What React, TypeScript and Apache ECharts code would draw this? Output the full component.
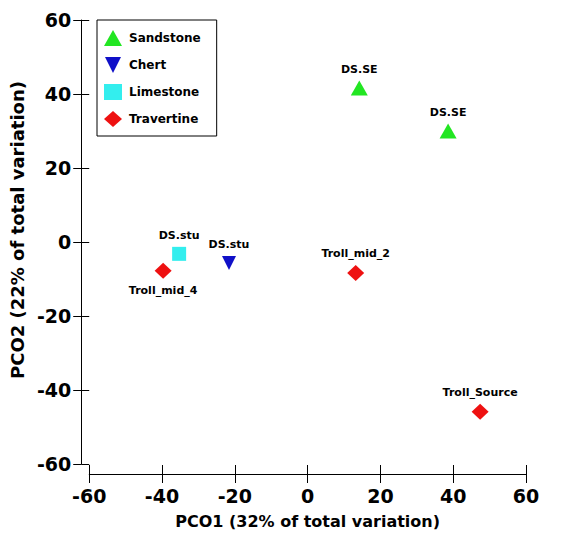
import React, { useEffect, useRef } from "react";
import * as echarts from "echarts";

const xTicks = { min: -60, max: 60, interval: 20 };
const yTicks = { min: -60, max: 60, interval: 20 };

const sandstoneX = [14.2, 38.6];
const sandstoneY = [41.6, 30.0];
const sandstoneLabels = ["DS.SE", "DS.SE"];

const chertX = [-21.6];
const chertY = [-5.7];
const chertLabels = ["DS.stu"];

const limestoneX = [-35.3];
const limestoneY = [-3.2];
const limestoneLabels = ["DS.stu"];

const travertineX = [-39.7, 13.2, 47.4];
const travertineY = [-7.8, -8.4, -45.9];
const travertineLabels = ["Troll_mid_4", "Troll_mid_2", "Troll_Source"];
const travertineLabelPos = ["bottom", "top", "top"];

const FONT = "DejaVu Sans";
const DOWN_TRI = "path://M0,0 L10,0 L5,10 Z";

function pts(xs: number[], ys: number[], labels: string[], pos?: string[]) {
  return xs.map((x, i) => ({
    value: [x, ys[i]],
    name: labels[i],
    label: { position: pos ? pos[i] : "top" },
  }));
}

export default function App() {
  const ref = useRef<HTMLDivElement>(null);
  useEffect(() => {
    if (!ref.current) return;
    const chart = echarts.init(ref.current, null, { renderer: "svg" });
    const axisCommon = {
      type: "value",
      min: xTicks.min,
      max: xTicks.max,
      interval: xTicks.interval,
      splitLine: { show: false },
    };
    const labelStyle = {
      show: true,
      formatter: "{b}",
      fontFamily: FONT,
      fontWeight: "bold",
      fontSize: 11,
      color: "#000",
      distance: 6,
    };
    chart.setOption({
      animation: false,
      backgroundColor: "#fff",
      textStyle: { fontFamily: FONT },
      grid: { left: 88, right: 43, top: 20, bottom: 82 },
      legend: {
        orient: "vertical",
        left: 97,
        top: 20,
        borderColor: "#000",
        borderWidth: 1,
        padding: [10, 16, 9, 7],
        itemGap: 11,
        itemWidth: 18,
        itemHeight: 16,
        textStyle: { fontFamily: FONT, fontWeight: "bold", fontSize: 12, color: "#000", padding: [0, 0, 0, 2] },
        data: ["Sandstone", "Chert", "Limestone", "Travertine"],
      },
      xAxis: [
        {
          ...axisCommon,
          position: "bottom",
          offset: 10,
          name: "PCO1 (32% of total variation)",
          nameLocation: "middle",
          nameGap: 39,
          nameTextStyle: { fontFamily: FONT, fontWeight: "bold", fontSize: 16, color: "#000" },
          axisLine: { show: true, onZero: false, lineStyle: { color: "#000", width: 1 } },
          axisTick: { show: true, length: 9, lineStyle: { color: "#000" } },
          axisLabel: { margin: 12, fontFamily: FONT, fontWeight: "bold", fontSize: 19, color: "#000" },
        },
        {
          ...axisCommon,
          position: "bottom",
          offset: 10,
          axisLine: { show: false, onZero: false },
          axisTick: { show: true, inside: true, length: 9, lineStyle: { color: "#000" } },
          axisLabel: { show: false },
        },
      ],
      yAxis: [
        {
          ...axisCommon,
          min: yTicks.min,
          max: yTicks.max,
          interval: yTicks.interval,
          position: "left",
          offset: 8,
          name: "PCO2 (22% of total variation)",
          nameLocation: "middle",
          nameGap: 48,
          nameTextStyle: {
            fontFamily: FONT,
            fontWeight: "bold",
            fontSize: 18,
            color: "#000",
            padding: [0, 0, 0, 24],
          },
          axisLine: { show: true, onZero: false, lineStyle: { color: "#000", width: 1 } },
          axisTick: { show: true, length: 8, lineStyle: { color: "#000" } },
          axisLabel: { margin: 10, fontFamily: FONT, fontWeight: "bold", fontSize: 19, color: "#000" },
        },
        {
          ...axisCommon,
          min: yTicks.min,
          max: yTicks.max,
          interval: yTicks.interval,
          position: "left",
          offset: 8,
          axisLine: { show: false, onZero: false },
          axisTick: { show: true, inside: true, length: 8, lineStyle: { color: "#000" } },
          axisLabel: { show: false },
        },
      ],
      series: [
        {
          name: "Sandstone",
          type: "scatter",
          symbol: "triangle",
          symbolSize: [17, 15],
          itemStyle: { color: "#22e622", opacity: 1 },
          label: labelStyle,
          data: pts(sandstoneX, sandstoneY, sandstoneLabels),
        },
        {
          name: "Chert",
          type: "scatter",
          symbol: DOWN_TRI,
          symbolSize: [14, 14],
          itemStyle: { color: "#1010c8", opacity: 1 },
          label: labelStyle,
          data: pts(chertX, chertY, chertLabels),
        },
        {
          name: "Limestone",
          type: "scatter",
          symbol: "rect",
          symbolSize: [14, 14],
          itemStyle: { color: "#33eeee", opacity: 1 },
          label: labelStyle,
          data: pts(limestoneX, limestoneY, limestoneLabels),
        },
        {
          name: "Travertine",
          type: "scatter",
          symbol: "diamond",
          symbolSize: [17, 16],
          itemStyle: { color: "#ee1111", opacity: 1 },
          label: labelStyle,
          data: pts(travertineX, travertineY, travertineLabels, travertineLabelPos),
        },
      ],
    });
    return () => chart.dispose();
  }, []);
  return (
    <div
      ref={ref}
      style={{ position: "fixed", left: 0, top: 0, width: 569, height: 546, background: "#fff" }}
    />
  );
}
